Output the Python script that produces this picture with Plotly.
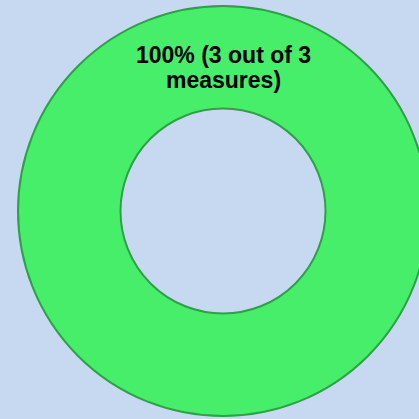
import plotly.graph_objects as go

labels = ["Measures met"]
met = [3]
total = 3
pct = [100]

line1 = f"<b>{pct[0]}% ({met[0]} out of {total}</b>"
line2 = "<b>measures)</b>"

W, H = 440, 419

fig = go.Figure()
fig.add_trace(go.Pie(
    labels=labels,
    values=met,
    hole=0.5,
    sort=False,
    direction="clockwise",
    marker=dict(colors=["#47ee6a"], line=dict(color="#2f9f48", width=2)),
    textinfo="none",
    hoverinfo="none",
    showlegend=False,
    domain=dict(x=[18 / W, 428 / W], y=[3 / H, 413 / H]),
))
font = dict(family="Liberation Sans, Arial, sans-serif", size=23, color="#000000")
fig.add_annotation(x=223.5 / W, y=1 - 55 / H, xref="paper", yref="paper",
                   text=line1, showarrow=False, font=font,
                   xanchor="center", yanchor="middle")
fig.add_annotation(x=224 / W, y=1 - 79.5 / H, xref="paper", yref="paper",
                   text=line2, showarrow=False, font=font,
                   xanchor="center", yanchor="middle")
fig.update_layout(
    width=W, height=H,
    margin=dict(l=0, r=0, t=0, b=0),
    paper_bgcolor="#c6d9f0",
    plot_bgcolor="#c6d9f0",
)
fig.write_html(
    "out.html",
    config={"displayModeBar": False},
    post_script="document.body.style.margin='0';document.body.style.overflow='hidden';document.body.style.background='#c6d9f0';",
)
